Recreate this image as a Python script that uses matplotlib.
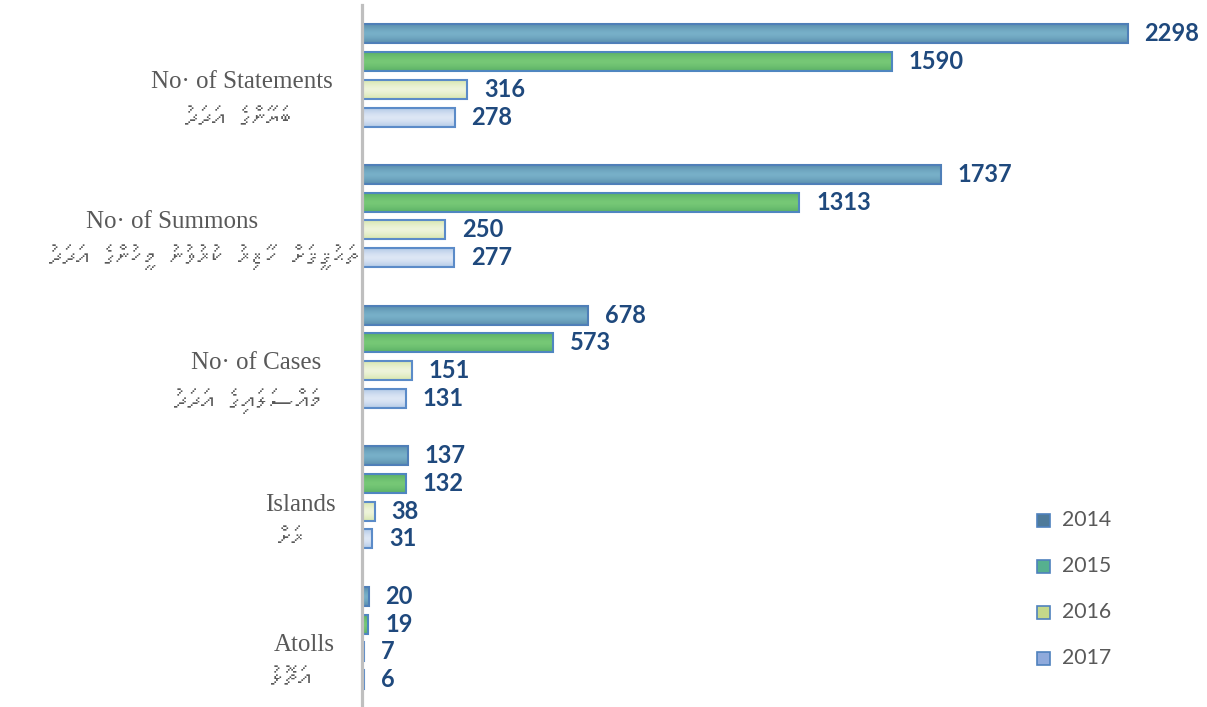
import matplotlib
matplotlib.use("Agg")
import matplotlib.pyplot as plt
from matplotlib import font_manager
from matplotlib.ft2font import FT2Font
from matplotlib.colors import to_rgb
import numpy as np

categories_en = ["No\u00b7 of Statements", "No\u00b7 of Summons", "No\u00b7 of Cases", "Islands", "Atolls"]
categories_dv = ["ބަޔާންގެ އަދަދު", "ތަޙުޤީޤަށް ހާޒިރު ކުރުވުނު މީހުންގެ އަދަދު",
                 "މައްސަލައިގެ އަދަދު", "ރަށް", "އަތޮޅު"]
years = ["2014", "2015", "2016", "2017"]
v2014 = [2298, 1737, 678, 137, 20]
v2015 = [1590, 1313, 573, 132, 19]
v2016 = [316, 250, 151, 38, 7]
v2017 = [278, 277, 131, 31, 6]
series = [v2014, v2015, v2016, v2017]

fill_edge = ["#5A8EAD", "#5BB066", "#D6E5AE", "#B3C9E7"]
fill_center = ["#78B0C8", "#76C876", "#EEF4DA", "#DDE7F5"]
edges = ["#4F7FB8", "#4F86C0", "#5B8BC8", "#5B8BC8"]
legend_fills = ["#4E7A9A", "#56B08F", "#C4D88A", "#8FAADC"]

# find a font with Thaana glyphs
thaana_family = None
for fe in font_manager.fontManager.ttflist:
    try:
        f = FT2Font(fe.fname)
        cm = f.get_charmap()
        if 0x0784 in cm and 0x07A6 in cm:
            thaana_family = fe.name
            break
    except Exception:
        pass


def visual_rtl(s):
    """Reorder a Thaana string for plain left-to-right glyph drawing."""
    return s[::-1]


def gradient_img(c_edge, c_center, rows=32):
    a = np.array(to_rgb(c_edge))
    b = np.array(to_rgb(c_center))
    t = np.linspace(-1, 1, rows)
    w = 1 - np.abs(t) ** 1.5
    img = a[None, :] * (1 - w[:, None]) + b[None, :] * w[:, None]
    return img[:, None, :]


W, H = 1207, 707
fig = plt.figure(figsize=(W / 100, H / 100), dpi=100)
ax_left, ax_right = 362 / W, 1195 / W
ax_top_px, ax_bot_px = 5.2, 708.2
ax = fig.add_axes([ax_left, (H - ax_bot_px) / H, ax_right - ax_left, (ax_bot_px - ax_top_px) / H])

n = len(categories_en)
slot = 0.197
bh = 0.135
for j, vals in enumerate(series):
    ys = np.arange(n) + (j - 1.5) * slot
    bars = ax.barh(ys, vals, height=bh, color=fill_center[j], edgecolor="none", zorder=2)
    img = gradient_img(fill_edge[j], fill_center[j])
    for bar in bars:
        x0, y0 = bar.get_x(), bar.get_y()
        bw, bhh = bar.get_width(), bar.get_height()
        im = ax.imshow(img, extent=(x0, x0 + bw, y0, y0 + bhh), aspect="auto",
                       interpolation="bilinear", zorder=2.1, origin="lower")
        im.set_clip_path(bar)
    ax.barh(ys, vals, height=bh, color="none", edgecolor=edges[j], linewidth=1.5, zorder=2.2)
    for y, v in zip(ys, vals):
        ax.annotate(str(v), xy=(v, y), xytext=(12, 0), textcoords="offset points",
                    va="center", ha="left", fontsize=17, fontweight="bold",
                    color="#1F497D", family="Lato", annotation_clip=False)

ax.set_xlim(0, 2500)
ax.set_ylim(n - 0.5, -0.5)
for s in ["top", "right", "bottom"]:
    ax.spines[s].set_visible(False)
ax.spines["left"].set_color("#BFBFBF")
ax.spines["left"].set_linewidth(2.3)
ax.spines["left"].set_zorder(3)
ax.set_xticks([])
ax.set_yticks([])

# category labels (pixel positions)
en_pos = [(241.5, 82), (172, 222), (256, 363), (300, 505), (304, 645)]
dv_pos = [(239, 120), (204, 257), (248, 401), (291, 540), (291, 680)]
dv_fam = [thaana_family, "DejaVu Sans"] if thaana_family else ["DejaVu Sans"]
for i in range(n):
    x, y = en_pos[i]
    fig.text(x / W, 1 - y / H, categories_en[i], ha="center", va="center",
             fontsize=18, family="Liberation Serif", color="#595959")
    x, y = dv_pos[i]
    fig.text(x / W, 1 - y / H, visual_rtl(categories_dv[i]), ha="center", va="center",
             fontsize=19.5, family=dv_fam, color="#595959", style="italic")

# legend
leg_y = [520, 566, 612, 658]
for k in range(4):
    y = leg_y[k]
    fig.patches.append(plt.Rectangle(((1043 - 6.5) / W, 1 - (y + 6.5) / H), 13 / W, 13 / H,
                                     transform=fig.transFigure, facecolor=legend_fills[k],
                                     edgecolor="#4F81BD", linewidth=1.2))
    fig.text(1062 / W, 1 - y / H, years[k], ha="left", va="center", fontsize=15.3,
             family="Lato", color="#595959")

fig.savefig("out.png", dpi=100)
